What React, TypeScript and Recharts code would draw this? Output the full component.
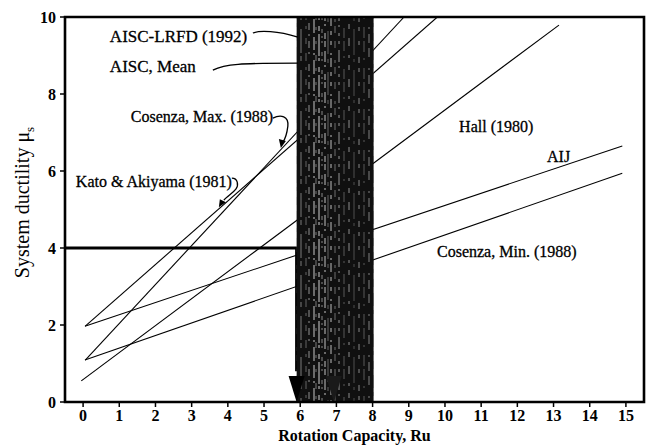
import React from 'react';
import { LineChart, Line, XAxis, YAxis, ReferenceArea, ReferenceDot } from 'recharts';

const FONT = '"Liberation Serif", "Times New Roman", serif';

const X_TICKS = [0, 1, 2, 3, 4, 5, 6, 7, 8, 9, 10, 11, 12, 13, 14, 15];
const Y_TICKS = [0, 2, 4, 6, 8, 10];

// straight lines, start and end points
const AIJ_X = [0.05, 14.9];
const AIJ_Y = [1.97, 6.65];
const COS_MIN_X = [0.05, 14.9];
const COS_MIN_Y = [1.09, 5.94];
const HALL_X = [-0.05, 13.15];
const HALL_Y = [0.55, 9.79];
const KATO_X = [0.06, 9.79];
const KATO_Y = [1.97, 10];
const COS_MAX_X = [0.06, 8.87];
const COS_MAX_Y = [1.09, 10];

// required ductility 4 -> rotation capacity ~6
const GUIDE_X = [-0.5, 5.9, 5.9];
const GUIDE_Y = [4, 4, 0.8];
const BAND = [5.9, 8.03];

const toPts = (xs: number[], ys: number[]) => xs.map((x, i) => ({ x, y: ys[i] }));

const series = [
  { name: 'AIJ', data: toPts(AIJ_X, AIJ_Y) },
  { name: 'Cosenza, Min. (1988)', data: toPts(COS_MIN_X, COS_MIN_Y) },
  { name: 'Hall (1980)', data: toPts(HALL_X, HALL_Y) },
  { name: 'Kato & Akiyama (1981)', data: toPts(KATO_X, KATO_Y) },
  { name: 'Cosenza, Max. (1988)', data: toPts(COS_MAX_X, COS_MAX_Y) },
];

// texture of the scanned shaded band
const STRIPES: [number, number, string, string][] = [
  [2, 0.8, '#f4f4f4', '9 3 2 5 14 4'],
  [4, 0.6, '#bbb', '3 11 6 7'],
  [7, 0.8, '#ffffff', '15 2 3 6 5 3'],
  [10, 0.6, '#d8d8d8', '2 9 4 3'],
  [13, 0.8, '#eeeeee', '6 4 11 3 2 7'],
  [16, 0.6, '#999', '13 5 4 9'],
  [19, 0.8, '#e8e8e8', '4 8 2 3 9 5'],
  [23, 0.6, '#aaa', '7 12 3 4'],
  [27, 0.7, '#d0d0d0', '3 6 12 4 2 6'],
  [32, 0.6, '#888', '10 5 2 11'],
  [37, 0.7, '#c4c4c4', '5 9 3 7'],
  [42, 0.6, '#777', '14 4 3 8'],
  [47, 0.7, '#bbb', '4 12 6 5'],
  [52, 0.6, '#8a8a8a', '11 6 2 8'],
  [57, 0.7, '#b0b0b0', '2 5 9 11'],
  [62, 0.6, '#777', '6 13 4 4'],
  [67, 0.7, '#a8a8a8', '12 3 5 9'],
  [72, 0.6, '#999', '3 9 8 6'],
  [75, 0.7, '#c8c8c8', '7 4 2 10'],
];

type Note = { text: string; x: number; y: number; size: number; leader?: string; head?: string };

const NOTES: Note[] = [
  { text: 'AISC-LRFD (1992)', x: 0.74, y: 9.35, size: 17, leader: 'M143,-9 C150,-12 168,-11 188,-5' },
  { text: 'AISC, Mean', x: 0.74, y: 8.57, size: 17, leader: 'M103,-2 C115,-8 130,-9 188,-9' },
  {
    text: 'Cosenza, Max. (1988)', x: 1.32, y: 7.27, size: 16,
    leader: 'M142,-4 C150,-8 158,-6 157,4 C156,12 155,16 152,20',
    head: '150,26 148,17 155,19',
  },
  {
    text: 'Kato & Akiyama (1981)', x: -0.2, y: 5.58, size: 16,
    leader: 'M156,-9 C162,-9 163,-2 160,2 C157,6 151,9 148,13',
    head: '143,20 144,12 150,15',
  },
  { text: 'Hall (1980)', x: 10.39, y: 7.01, size: 16 },
  { text: 'AIJ', x: 12.82, y: 6.23, size: 16 },
  { text: 'Cosenza, Min. (1988)', x: 9.78, y: 3.77, size: 16 },
];

const NoteShape = ({ cx, cy, note }: any) => (
  <g>
    <text x={cx} y={cy} fontFamily={FONT} fontSize={note.size} fill="#000" stroke="#000" strokeWidth={0.3}>
      {note.text}
    </text>
    {note.leader && (
      <path d={note.leader} transform={`translate(${cx},${cy})`} fill="none" stroke="#000" strokeWidth={1.3} />
    )}
    {note.head && <polygon points={note.head} transform={`translate(${cx},${cy})`} fill="#000" />}
  </g>
);

const ArrowHead = ({ cx, cy, color }: any) => (
  <polygon points={`${cx},${cy} ${cx - 8},${cy - 26} ${cx + 8},${cy - 26}`} fill={color} />
);

const YLabel = ({ viewBox }: any) => {
  const x = viewBox.x + 29;
  const y = viewBox.y + viewBox.height / 2 - 7;
  return (
    <text x={x} y={y} transform={`rotate(-90 ${x} ${y})`} textAnchor="middle" fontFamily={FONT} fontSize={20} fill="#000">
      System ductility μ<tspan fontSize={13} dy={5}>s</tspan>
    </text>
  );
};

export default function App() {
  const tick = { fill: '#000', fontSize: 16, fontWeight: 'bold', fontFamily: FONT };
  return (
    <div style={{ position: 'absolute', left: 0, top: 0, width: 648, height: 447, background: '#fff' }}>
      <LineChart width={648} height={447} margin={{ top: 17, right: 4, bottom: 0, left: 0 }}>
        <defs>
          <pattern id="band" patternUnits="userSpaceOnUse" width={78} height={41}>
            <rect width={78} height={41} fill="#101010" />
            {STRIPES.map(([sx, w, c, d], i) => (
              <line key={i} x1={sx} y1={0} x2={sx} y2={41} stroke={c} strokeWidth={w} strokeDasharray={d} />
            ))}
          </pattern>
        </defs>
        <XAxis
          dataKey="x"
          type="number"
          domain={[-0.5, 15.5]}
          ticks={X_TICKS}
          interval={0}
          height={45}
          axisLine={false}
          tickLine={{ stroke: '#000', strokeWidth: 1.5 }}
          tickSize={5}
          tickMargin={3}
          tick={tick}
          allowDataOverflow
          label={{ value: 'Rotation Capacity, Ru', position: 'insideBottom', offset: 6, fill: '#000', fontSize: 16, fontWeight: 'bold', fontFamily: FONT }}
        />
        <YAxis
          type="number"
          domain={[0, 10]}
          ticks={Y_TICKS}
          width={65}
          axisLine={false}
          tickLine={{ stroke: '#000', strokeWidth: 1.5 }}
          tickSize={5}
          tickMargin={4}
          tick={tick}
          allowDataOverflow
          label={<YLabel />}
        />
        {series.map((s) => (
          <Line
            key={s.name}
            data={s.data}
            dataKey="y"
            name={s.name}
            type="linear"
            stroke="#000"
            strokeWidth={1.1}
            dot={false}
            isAnimationActive={false}
          />
        ))}
        <Line
          data={toPts(GUIDE_X, GUIDE_Y)}
          dataKey="y"
          type="linear"
          stroke="#000"
          strokeWidth={3}
          dot={false}
          isAnimationActive={false}
        />
        <ReferenceArea x1={BAND[0]} x2={BAND[1]} y1={0} y2={10} fill="url(#band)" fillOpacity={1} stroke="none" zIndex={500} />
        <ReferenceDot x={GUIDE_X[1]} y={0} r={0} shape={(p: any) => <ArrowHead {...p} color="#000" />} zIndex={600} />
        <ReferenceDot x={6.93} y={0} r={0} shape={(p: any) => <ArrowHead {...p} color="#1a1a1a" />} zIndex={600} />
        {NOTES.map((n) => (
          <ReferenceDot key={n.text} x={n.x} y={n.y} r={0} shape={(p: any) => <NoteShape {...p} note={n} />} zIndex={700} />
        ))}
        <ReferenceArea x1={-0.5} x2={15.5} y1={0} y2={10} fill="none" stroke="#000" strokeWidth={2.6} zIndex={800} />
      </LineChart>
    </div>
  );
}
